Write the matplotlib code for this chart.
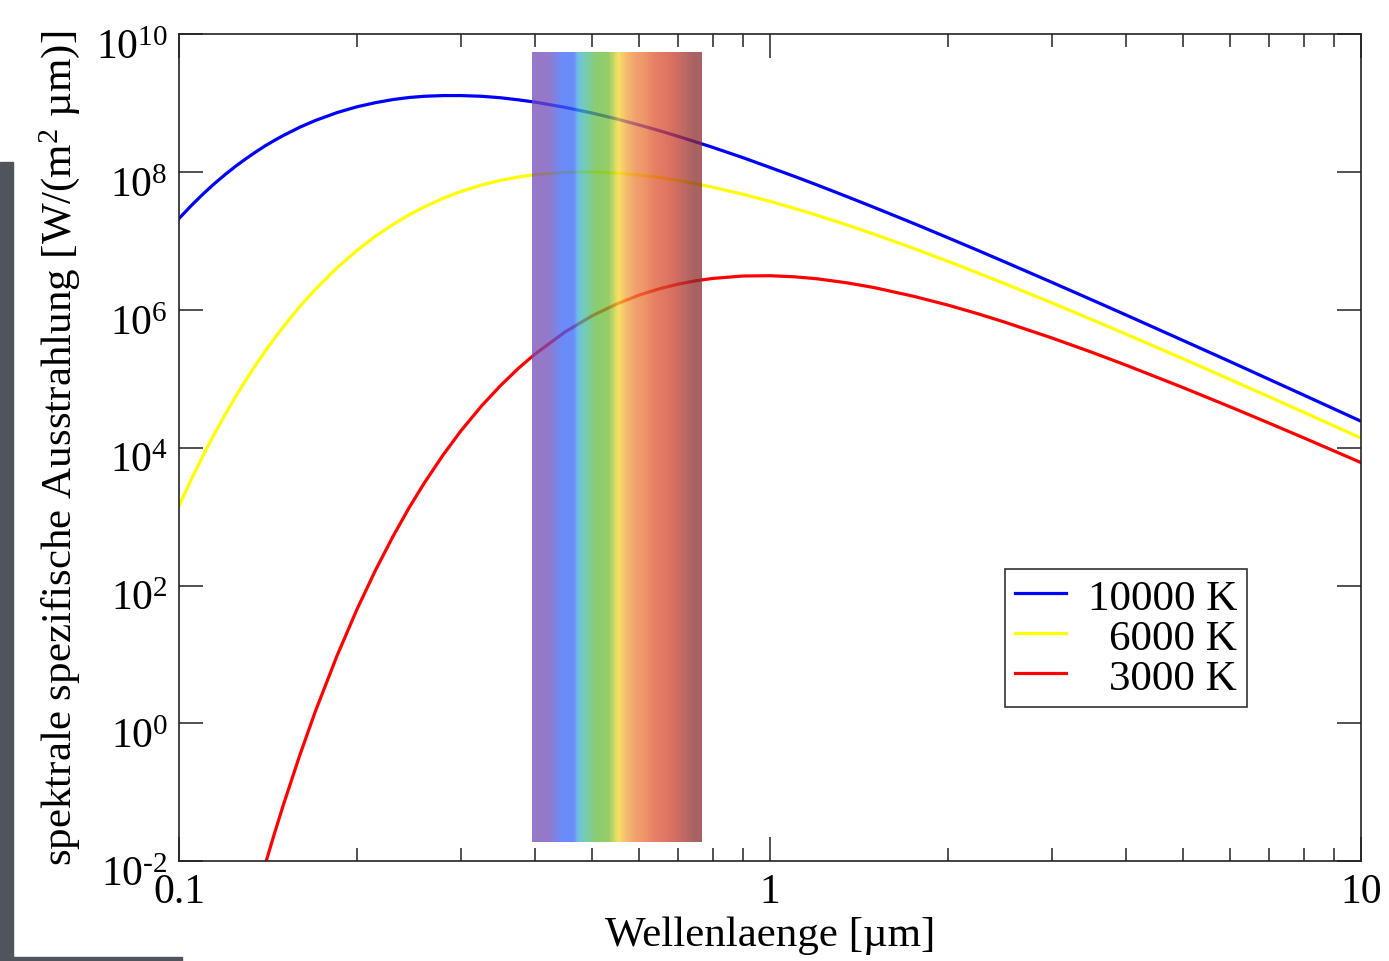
import numpy as np
import matplotlib
matplotlib.use("Agg")
import matplotlib.pyplot as plt
from matplotlib import ticker
from matplotlib import transforms
from matplotlib.patches import Rectangle

plt.rcParams['font.family'] = ['Liberation Serif', 'DejaVu Serif']
plt.rcParams['mathtext.fontset'] = 'custom'
plt.rcParams['mathtext.rm'] = 'Liberation Serif'
plt.rcParams['mathtext.it'] = 'Liberation Serif:italic'

# wavelength [um] and spectral exitance [W/(m^2 um)]
wavelength = [0.1, 0.105, 0.11, 0.115, 0.12, 0.125, 0.13, 0.135, 0.14, 0.145,
              0.15, 0.16, 0.17, 0.185, 0.2, 0.215, 0.23, 0.245, 0.26, 0.28,
              0.3, 0.325, 0.35, 0.375, 0.4, 0.45, 0.5, 0.55, 0.6, 0.65, 0.7,
              0.75, 0.8, 0.9, 1.0, 1.1, 1.2, 1.35, 1.5, 1.75, 2, 2.25, 2.5,
              3, 3.5, 4, 5, 6, 7, 8, 10]
m_10000 = [2.11e7, 3.28e7, 4.85e7, 6.86e7, 9.33e7, 1.23e8, 1.57e8, 1.96e8,
           2.40e8, 2.86e8, 3.36e8, 4.44e8, 5.56e8, 7.24e8, 8.80e8, 1.01e9,
           1.12e9, 1.20e9, 1.25e9, 1.28e9, 1.28e9, 1.25e9, 1.19e9, 1.11e9,
           1.03e9, 8.64e8, 7.14e8, 5.87e8, 4.81e8, 3.96e8, 3.27e8, 2.71e8,
           2.27e8, 1.61e8, 1.16e8, 8.61e7, 6.49e7, 4.38e7, 3.06e7, 1.79e7,
           1.11e7, 7.25e6, 4.92e6, 2.50e6, 1.40e6, 8.44e5, 3.59e5, 1.78e5,
           9.76e4, 5.80e4, 2.42e4]
m_6000 = [1.44e3, 3.54e3, 7.92e3, 1.64e4, 3.15e4, 5.72e4, 9.83e4, 1.61e5,
          2.53e5, 3.84e5, 5.62e5, 1.11e6, 1.97e6, 4.05e6, 7.26e6, 1.17e7,
          1.72e7, 2.38e7, 3.11e7, 4.15e7, 5.20e7, 6.45e7, 7.55e7, 8.44e7,
          9.13e7, 9.88e7, 9.98e7, 9.62e7, 9.01e7, 8.27e7, 7.49e7, 6.72e7,
          6.00e7, 4.74e7, 3.74e7, 2.96e7, 2.36e7, 1.70e7, 1.25e7, 7.77e6,
          5.05e6, 3.41e6, 2.38e6, 1.26e6, 7.24e5, 4.45e5, 1.95e5, 9.79e4,
          5.45e4, 3.27e4, 1.38e4]
wavelength_red = wavelength[6:]
m_3000 = [9.57e-4, 3.11e-3, 9.20e-3, 2.52e-2, 6.41e-2, 0.342, 1.48, 9.52,
          45.1, 167, 511, 1.34e3, 3.07e3, 7.91e3, 1.76e4, 4.03e4, 7.97e4,
          1.41e5, 2.27e5, 4.77e5, 8.17e5, 1.21e6, 1.63e6, 2.02e6, 2.36e6,
          2.64e6, 2.85e6, 3.09e6, 3.12e6, 3.01e6, 2.82e6, 2.46e6, 2.10e6,
          1.57e6, 1.17e6, 8.74e5, 6.59e5, 3.90e5, 2.43e5, 1.58e5, 7.44e4,
          3.93e4, 2.26e4, 1.39e4, 6.08e3]

labels = ['10000 K', '6000 K', '3000 K']

# visible band (colours as they look on white paper)
band_x = (0.396, 0.767)
band_y = (1.9e-2, 5.5e9)
band_pos = [0.0, 0.09, 0.17, 0.24, 0.27, 0.31, 0.38, 0.45, 0.48, 0.51, 0.55,
            0.61, 0.66, 0.72, 0.78, 0.84, 0.9, 0.95, 1.0]
band_colors = [(150, 120, 200), (150, 120, 200), (108, 138, 248),
               (105, 140, 250), (110, 190, 230), (115, 205, 180),
               (140, 205, 110), (150, 205, 105), (200, 215, 100),
               (250, 225, 100), (245, 190, 110), (240, 160, 110),
               (238, 150, 105), (230, 128, 100), (225, 120, 98),
               (212, 110, 98), (190, 105, 100), (170, 98, 98), (168, 96, 96)]
band_alpha = 0.75

xticks_major = [0.1, 1, 10]
xtick_labels = ['0.1', '1', '10']
yticks = [1e-2, 1e0, 1e2, 1e4, 1e6, 1e8, 1e10]

fig = plt.figure(figsize=(13.89, 9.62), dpi=100)
ax = fig.add_axes([0.1289, 0.1036, 0.8509, 0.86])

ax.plot(wavelength, m_10000, color='#0000ff', lw=2.3, label=labels[0], zorder=2)
ax.plot(wavelength, m_6000, color='#ffff00', lw=2.3, label=labels[1], zorder=2)
ax.plot(wavelength_red, m_3000, color='#ff0000', lw=2.3, label=labels[2], zorder=2)

ax.set_xscale('log')
ax.set_yscale('log')
ax.set_xlim(0.1, 10)
ax.set_ylim(1e-2, 1e10)

# rainbow overlay (semi transparent, on top of the curves)
n = 200
frac = np.linspace(0, 1, n)
obs = np.array(band_colors, dtype=float) / 255.0
rgb = np.stack([np.interp(frac, band_pos, obs[:, k]) for k in range(3)], axis=1)
rgb = np.clip((rgb - (1 - band_alpha)) / band_alpha, 0, 1)
rgba = np.concatenate([rgb, np.full((n, 1), band_alpha)], axis=1)
xe = np.geomspace(band_x[0], band_x[1], n + 1)
ye = np.array(band_y)
ax.pcolormesh(xe, ye, rgba[np.newaxis, :, :], shading='flat', zorder=3,
              edgecolors='none', antialiased=False)


def ylog_fmt(v, pos):
    e = int(round(np.log10(v)))
    if e < 0:
        return r'$10^{\text{-%d}}$' % -e
    return r'$10^{%d}$' % e


ax.xaxis.set_major_locator(ticker.FixedLocator(xticks_major))
ax.xaxis.set_major_formatter(ticker.FixedFormatter(xtick_labels))
ax.xaxis.set_minor_locator(ticker.LogLocator(base=10, subs=np.arange(2, 10)))
ax.xaxis.set_minor_formatter(ticker.NullFormatter())
ax.yaxis.set_major_locator(ticker.FixedLocator(yticks))
ax.yaxis.set_major_formatter(ticker.FuncFormatter(ylog_fmt))
ax.yaxis.set_minor_locator(ticker.NullLocator())

ax.tick_params(which='both', direction='in', top=True, right=True,
               width=1.1, color='#222222')
ax.tick_params(which='major', length=17, labelsize=30)
ax.tick_params(which='minor', length=9.5)
ax.tick_params(axis='x', pad=8)
ax.tick_params(axis='y', pad=8)
for sp in ax.spines.values():
    sp.set_linewidth(1.2)
    sp.set_color('#222222')

ax.set_xlabel('Wellenlaenge [µm]', fontsize=31)
ax.xaxis.set_label_coords(0.5, -0.065)
ax.set_ylabel('spektrale spezifische Ausstrahlung [W/(m$^{2}$ µm)]', fontsize=31)
ax.yaxis.set_label_coords(-0.082, 0.5)

leg = ax.legend(loc='lower left', bbox_to_anchor=(0.699, 0.1865),
                borderaxespad=0, fontsize=31, frameon=True, fancybox=False,
                handlelength=1.2, handletextpad=0.5, labelspacing=0.02,
                borderpad=0.22)
leg.get_frame().set_edgecolor('black')
leg.get_frame().set_linewidth(1.2)
leg.set_zorder(5)

fig.canvas.draw()
renderer = fig.canvas.get_renderer()
# right-align legend labels
widths = [t.get_window_extent(renderer).width for t in leg.get_texts()]
wmax = max(widths)
for t, w in zip(leg.get_texts(), widths):
    t.set_position((wmax - w, 0))
# y tick labels sit a little below their ticks in the original
shift = transforms.ScaledTranslation(0, -0.09, fig.dpi_scale_trans)
for lab in ax.yaxis.get_majorticklabels():
    lab.set_transform(lab.get_transform() + shift)

# dark strip of the screenshot border at the left edge
fig.patches.append(Rectangle((0, 0), 13 / 1389, (962 - 163) / 962,
                             transform=fig.transFigure, color='#50545c', zorder=0))
fig.patches.append(Rectangle((0, 0), 182 / 1389, 4 / 962,
                             transform=fig.transFigure, color='#50545c', zorder=0))

fig.savefig('out.png', dpi=100)
